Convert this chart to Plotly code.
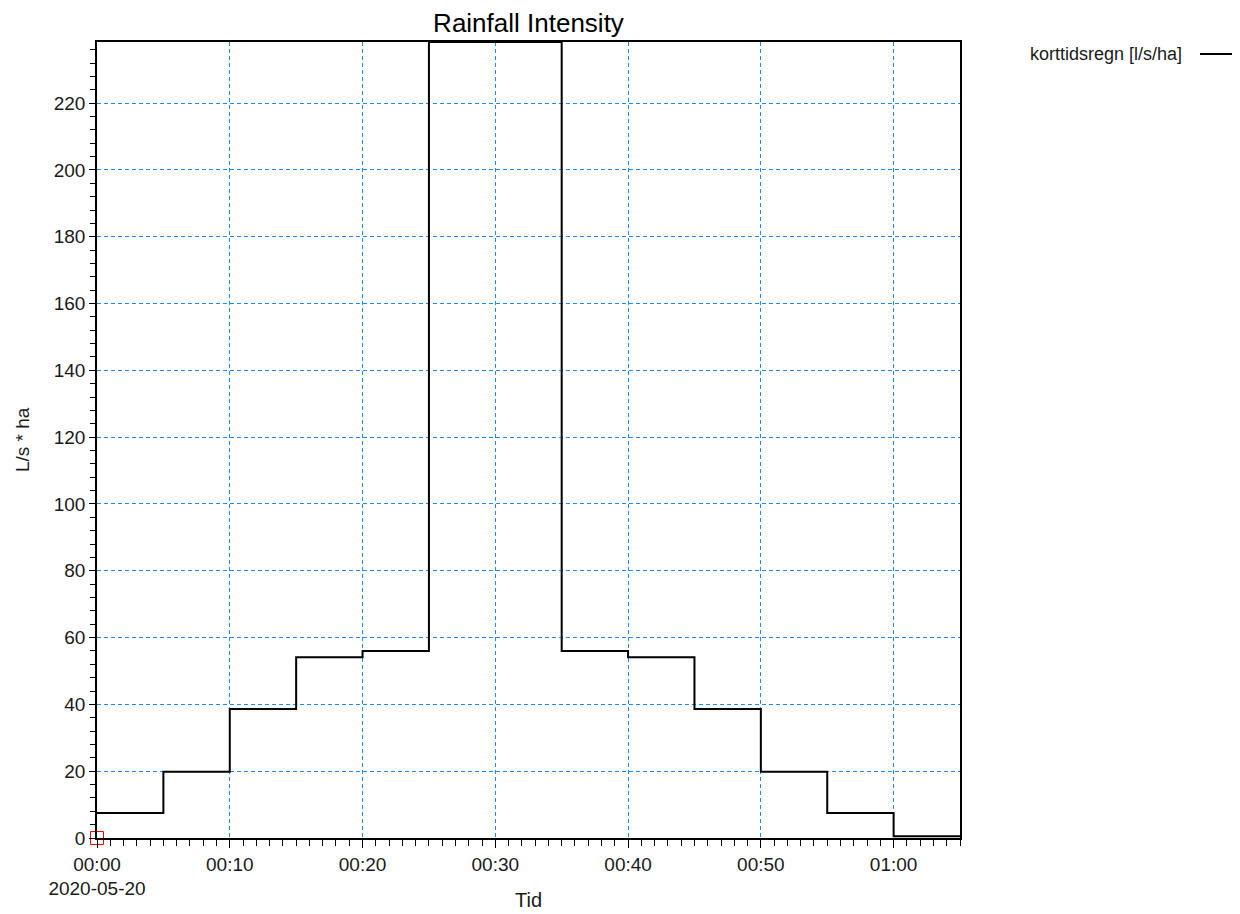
import plotly.graph_objects as go

# Data
start_times = ["2020-05-20 00:00", "2020-05-20 00:05", "2020-05-20 00:10", "2020-05-20 00:15",
               "2020-05-20 00:20", "2020-05-20 00:25", "2020-05-20 00:30", "2020-05-20 00:35",
               "2020-05-20 00:40", "2020-05-20 00:45", "2020-05-20 00:50", "2020-05-20 00:55",
               "2020-05-20 01:00", "2020-05-20 01:05"]
intensity = [7.5, 19.8, 38.6, 54.1, 56.0, 238.3, 238.3, 56.0, 54.1, 38.6, 19.8, 7.5, 0.5, 0.5]

tick_vals = ["2020-05-20 00:00", "2020-05-20 00:10", "2020-05-20 00:20", "2020-05-20 00:30",
             "2020-05-20 00:40", "2020-05-20 00:50", "2020-05-20 01:00"]
tick_text = ["00:00<br>2020-05-20", "00:10", "00:20", "00:30", "00:40", "00:50", "01:00"]
y_ticks = [0, 20, 40, 60, 80, 100, 120, 140, 160, 180, 200, 220]

series_name = "korttidsregn [l/s/ha]"

# plot area in figure pixel coords (page has 8px body margin)
L, R, T, B = 89, 952, 34, 830
W, H = 1240, 914
pw, ph = R - L, B - T

fig = go.Figure()
fig.add_trace(go.Scatter(
    x=start_times, y=intensity, mode="lines", line=dict(shape="hv", color="black", width=2),
    name=series_name, showlegend=False))
fig.add_trace(go.Scatter(
    x=[start_times[0]], y=[0], mode="markers",
    marker=dict(symbol="square-open", color="red", size=13, line=dict(width=1, color="red")),
    showlegend=False, cliponaxis=False))

font = "Arial, Liberation Sans, sans-serif"
grid = "#1E8CFF"

fig.update_layout(
    width=W, height=H,
    margin=dict(l=L, r=W - R, t=T, b=H - B),
    paper_bgcolor="white", plot_bgcolor="white",
    font=dict(family=font, size=19, color="#1a1a1a"),
    title=dict(text="Rainfall Intensity", x=(L + R) / 2 / W, xanchor="center",
               y=1 - 15 / H, yanchor="middle", font=dict(size=26, color="black")),
    xaxis=dict(
        type="date", range=["2020-05-20 00:00", "2020-05-20 01:05"],
        tickmode="array", tickvals=tick_vals, ticktext=tick_text,
        showgrid=True, gridcolor=grid, griddash="4px,3px", gridwidth=1,
        showline=True, linecolor="black", linewidth=1.5, mirror=True,
        ticks="outside", ticklen=8, tickcolor="black", tickwidth=1,
        minor=dict(dtick=60000, ticks="outside", ticklen=6, tickcolor="black", showgrid=False),
        zeroline=False,
    ),
    yaxis=dict(
        range=[0, 238.3], tickmode="array", tickvals=y_ticks,
        showgrid=True, gridcolor=grid, griddash="4px,3px", gridwidth=1,
        showline=True, linecolor="black", linewidth=1.5, mirror=True,
        ticks="outside", ticklen=6, tickcolor="black", tickwidth=1,
        minor=dict(dtick=4, ticks="outside", ticklen=5, tickcolor="black", showgrid=False),
        zeroline=False,
    ),
)

# axis titles
fig.add_annotation(text="Tid", xref="paper", yref="paper",
                   x=0.5, y=-(892 - B) / ph, xanchor="center", yanchor="middle",
                   showarrow=False, font=dict(size=20, color="#1a1a1a"))
fig.add_annotation(text="L/s * ha", xref="paper", yref="paper", textangle=-90,
                   x=-(L - 14) / pw, y=(B - 432) / ph, xanchor="center", yanchor="middle",
                   showarrow=False, font=dict(size=19, color="#1a1a1a"))

# legend entry (text, then line sample to the right)
fig.add_annotation(text=series_name, xref="paper", yref="paper",
                   x=(1176 - L) / pw, y=(B - 46) / ph, xanchor="right", yanchor="middle",
                   showarrow=False, font=dict(size=18, color="#1a1a1a"))
fig.add_shape(type="line", xref="paper", yref="paper",
              x0=(1192 - L) / pw, x1=(1240 - L) / pw,
              y0=(B - 46) / ph, y1=(B - 46) / ph,
              line=dict(color="black", width=2))

fig.write_html("out.html")
